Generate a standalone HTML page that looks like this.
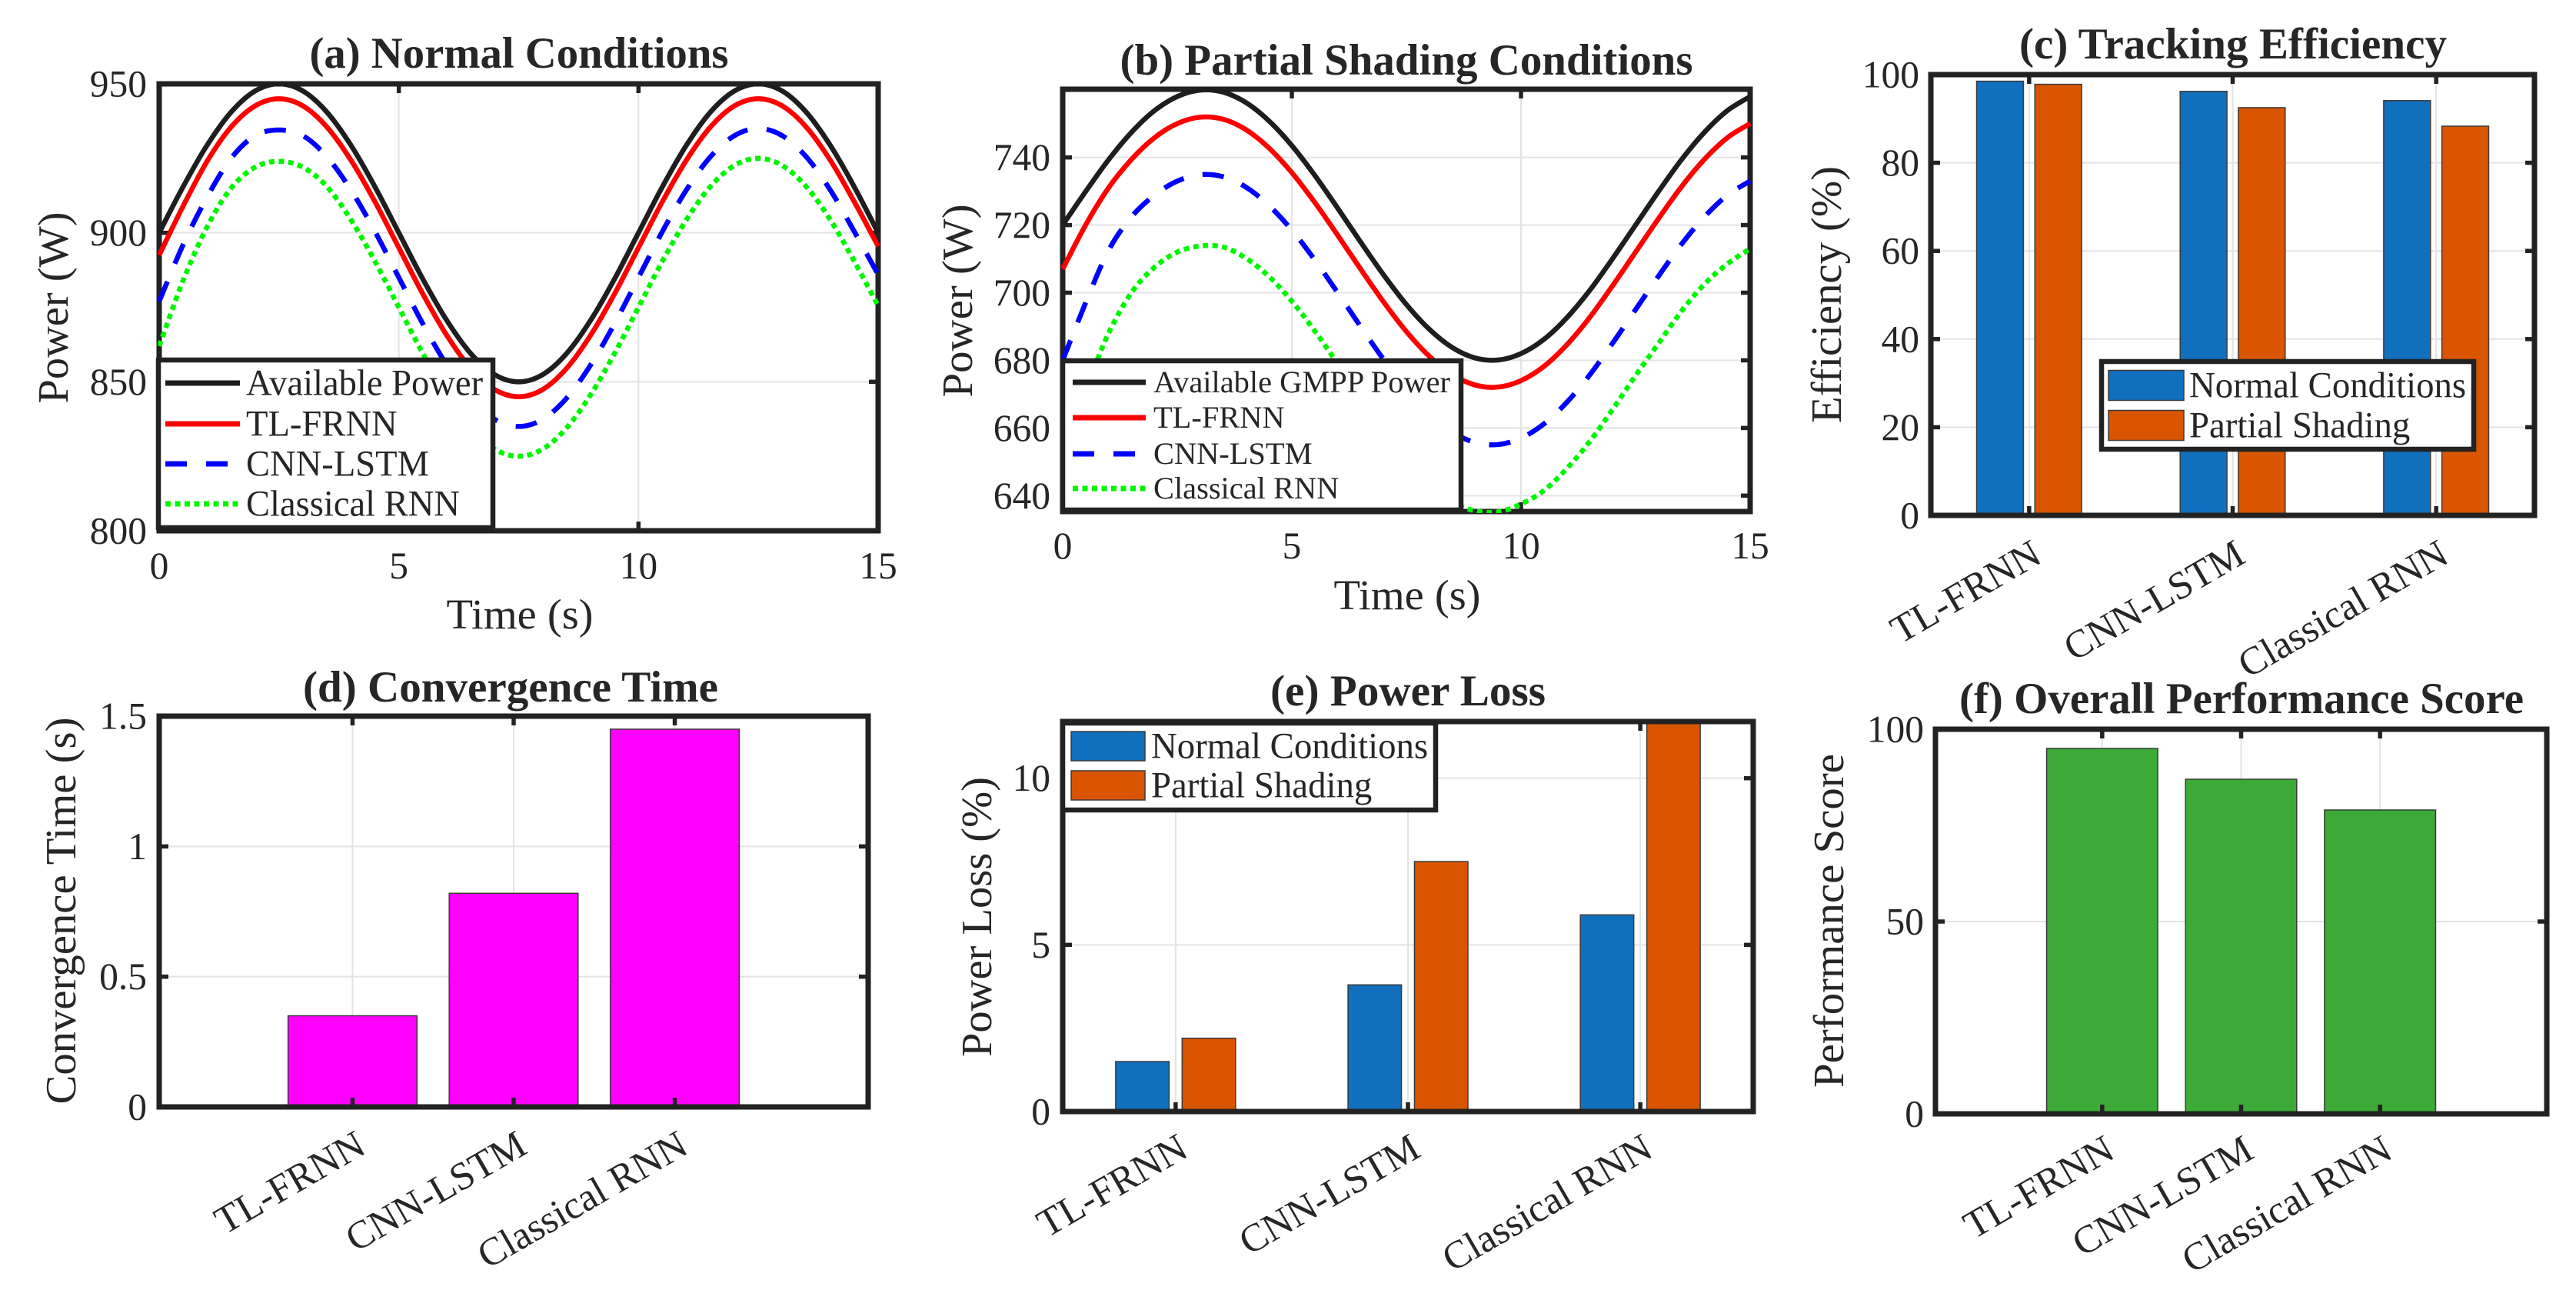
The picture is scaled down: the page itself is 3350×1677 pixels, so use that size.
<!DOCTYPE html>
<html lang="en">
<head>
<meta charset="utf-8">
<title>MPPT performance comparison</title>
<style>
html,body{margin:0;padding:0;background:#fff;}
svg{display:block;}
text{font-family:"Liberation Serif","Times New Roman",serif;fill:#262626;}
</style>
</head>
<body>
<svg id="figure" xmlns="http://www.w3.org/2000/svg" width="3350" height="1677" viewBox="0 0 3350 1677"></svg>
<script>
// ---------- chart data ----------
const timeSeconds = [0,0.5,1,1.5,2,2.5,3,3.5,4,4.5,5,5.5,6,6.5,7,7.5,8,8.5,9,9.5,10,10.5,11,11.5,12,12.5,13,13.5,14,14.5,15];
const normalAvailable = [900,915.5,929.4,940.5,947.6,950,947.6,940.5,929.4,915.5,900,884.5,870.6,859.5,852.4,850,852.4,859.5,870.6,884.5,900,915.5,929.4,940.5,947.6,950,947.6,940.5,929.4,915.5,900];
const normalTlFrnn = [892.5,909,924,935.5,942.6,945,942.6,935.5,924.4,910.5,895,879.5,865.6,854.5,847.4,845,847.4,854.5,865.6,879.5,895,910.5,924.4,935.5,942.6,945,942.6,935.5,924.4,910.5,895.5];
const normalCnnLstm = [877,896,912,925,932.6,934.5,932.6,925.5,914.4,900.5,885,869.5,855.6,844.5,837.4,835,837.4,844.5,855.6,869.5,885,900.5,914.4,925.5,932.6,935,932.6,925.5,914.4,900.5,886];
const normalRnn = [862,884,902,915,922,924,922,915.5,904.4,890.5,875,859.5,845.6,834.5,827.4,825,827.4,834.5,845.6,859.5,875,890.5,904.4,915.5,922.6,925,922.6,915.5,904.4,890.5,875.5];
const shadingAvailable = [720,729.9,739.3,747.4,753.8,758,759.9,759.3,756.2,750.8,743.5,734.7,725,715,705.3,696.5,689.2,683.8,680.7,680.1,682,686.2,692.6,700.7,710.1,720,729.9,739.3,747.4,753.8,758];
const shadingTlFrnn = [707,720,731,739.4,745.8,750,751.9,751.3,748.2,742.8,735.5,726.7,717,707,697.3,688.5,681.2,675.8,672.7,672.1,674,678.2,684.6,692.7,702.1,712,721.9,731.3,739.4,745.8,750];
const shadingCnnLstm = [680,697,712.5,722.4,728.8,733,734.9,734.3,731.2,725.8,718.5,709.7,700,690,680.3,671.5,664.2,658.8,655.7,655.1,657,661.2,667.6,675.7,685.1,695,704.9,714.3,722.4,728.8,733];
const shadingRnn = [660,672,688,700,707.5,712,713.8,713.5,710.2,704.8,697.5,688.7,679,669,659.3,650.5,643.2,638,635.5,635.2,637.5,641.5,648,656,665.5,675.5,685,694.5,702.5,708.5,713];
const methods = ["TL-FRNN","CNN-LSTM","Classical RNN"];
const efficiencyNormal = [98.5,96.2,94.1];
const efficiencyShading = [97.8,92.5,88.3];
const convergenceTime = [0.35,0.82,1.45];
const lossNormal = [1.5,3.8,5.9];
const lossShading = [2.2,7.5,11.7];
const overallScore = [95,87,79];
const timeTicks = [0,5,10,15];
const normalPowerTicks = [800,850,900,950];
const shadingPowerTicks = [640,660,680,700,720,740];
const efficiencyTicks = [0,20,40,60,80,100];
const convergenceTicks = [0,0.5,1,1.5];
const lossTicks = [0,5,10];
const scoreTicks = [0,50,100];
const lineLegendA = ["Available Power","TL-FRNN","CNN-LSTM","Classical RNN"];
const lineLegendB = ["Available GMPP Power","TL-FRNN","CNN-LSTM","Classical RNN"];
const barLegend = ["Normal Conditions","Partial Shading"];

// ---------- drawing helpers ----------
const NS = "http://www.w3.org/2000/svg";
const root = document.getElementById("figure");
const INK = "#222222";
const BLUE = "#1170BE";
const ORANGE = "#D95500";
const MAGENTA = "#FF00FF";
const GREEN = "#3BAA36";
let clipCounter = 0;

function node(tag, attrs, name, parent) {
  const el = document.createElementNS(NS, tag);
  for (const k in attrs) el.setAttribute(k, attrs[k]);
  
  
  (parent || root).appendChild(el);
  return el;
}
function label(str, x, y, o, name, parent) {
  const a = {x: x, y: y, "font-size": o.size, "text-anchor": o.anchor || "middle"};
  if (o.weight) a["font-weight"] = o.weight;
  if (o.rot) a.transform = "rotate(" + o.rot + " " + x + " " + y + ")";
  if (o.width) { a.textLength = o.width; a.lengthAdjust = "spacingAndGlyphs"; }
  const t = node("text", a, name, parent);
  t.textContent = str;
  if (o.squeeze) {
    t.setAttribute("textLength", (t.getComputedTextLength() * o.squeeze).toFixed(1));
    t.setAttribute("lengthAdjust", "spacingAndGlyphs");
  }
  return t;
}
function scale(d0, d1, p0, p1) { return v => p0 + (v - d0) * (p1 - p0) / (d1 - d0); }
function smoothPath(xs, ys) {
  let d = "M" + xs[0].toFixed(2) + " " + ys[0].toFixed(2);
  for (let i = 0; i < xs.length - 1; i++) {
    const a = Math.max(i - 1, 0), b = Math.min(i + 2, xs.length - 1);
    const c1x = xs[i] + (xs[i + 1] - xs[a]) / 6, c1y = ys[i] + (ys[i + 1] - ys[a]) / 6;
    const c2x = xs[i + 1] - (xs[b] - xs[i]) / 6, c2y = ys[i + 1] - (ys[b] - ys[i]) / 6;
    d += "C" + c1x.toFixed(2) + " " + c1y.toFixed(2) + " " + c2x.toFixed(2) + " " + c2y.toFixed(2) + " " + xs[i + 1].toFixed(2) + " " + ys[i + 1].toFixed(2);
  }
  return d;
}

// Builds one axes. Line panels paint the frame below the curves; bar panels paint it above the bars.
function axes(cfg) {
  const g = node("g", {}, cfg.id + "-panel");
  const f = cfg.frame;
  const sx = scale(cfg.xlim[0], cfg.xlim[1], f.l, f.r);
  const sy = scale(cfg.ylim[0], cfg.ylim[1], f.b, f.t);
  const clipId = "clip" + (++clipCounter);
  const pad = cfg.frameBelow ? 2 : 0;
  const defs = node("defs", {}, cfg.id + "-defs", g);
  const cp = node("clipPath", {id: clipId}, cfg.id + "-clip", defs);
  node("rect", {x: f.l - pad, y: f.t - pad, width: f.r - f.l + 2 * pad, height: f.b - f.t + 2 * pad}, cfg.id + "-clip-rect", cp);
  const gridG = node("g", {stroke: "#E3E3E3", "stroke-width": 2}, cfg.id + "-grid", g);
  cfg.xticks.forEach(v => node("line", {x1: sx(v), x2: sx(v), y1: f.t, y2: f.b}, cfg.id + "-grid-x", gridG));
  cfg.yticks.forEach(v => node("line", {x1: f.l, x2: f.r, y1: sy(v), y2: sy(v)}, cfg.id + "-grid-y", gridG));

  function drawFrame() {
    const tickG = node("g", {stroke: INK, "stroke-width": 5.5}, cfg.id + "-ticks", g);
    cfg.xticks.forEach(v => {
      node("line", {x1: sx(v), x2: sx(v), y1: f.b, y2: f.b - 12}, cfg.id + "-x-tick", tickG);
      node("line", {x1: sx(v), x2: sx(v), y1: f.t, y2: f.t + 12}, cfg.id + "-x-tick-top", tickG);
    });
    cfg.yticks.forEach(v => {
      node("line", {x1: f.l, x2: f.l + 12, y1: sy(v), y2: sy(v)}, cfg.id + "-y-tick", tickG);
      node("line", {x1: f.r, x2: f.r - 12, y1: sy(v), y2: sy(v)}, cfg.id + "-y-tick-right", tickG);
    });
    node("rect", {x: f.l, y: f.t, width: f.r - f.l, height: f.b - f.t, fill: "none", stroke: INK, "stroke-width": 7}, cfg.id + "-frame", g);
  }
  if (cfg.frameBelow) drawFrame();
  const plot = node("g", {"clip-path": "url(#" + clipId + ")"}, cfg.id + "-plot-area", g);

  function finish() {
    if (!cfg.frameBelow) drawFrame();
    cfg.yticks.forEach(v => label(String(v), cfg.yLabelRight, sy(v) + 16.5, {size: 49.5, anchor: "end"}, cfg.id + "-y-tick-label", g));
    if (cfg.categories) {
      cfg.categories.forEach((c, i) => {
        const x = sx(cfg.xticks[i]) + cfg.catDx, y = f.b + cfg.catDy;
        label(c, x, y, {size: 51, anchor: "end", rot: -30}, cfg.id + "-x-tick-label", g);
      });
    } else {
      cfg.xticks.forEach(v => label(String(v), sx(v), cfg.xLabelBase, {size: 49.5}, cfg.id + "-x-tick-label", g));
    }
    label(cfg.title, cfg.titleX, cfg.titleY, {size: 57, weight: "bold", width: cfg.titleW}, cfg.id + "-title", g);
    label(cfg.ylabel, cfg.ylabelX, cfg.ylabelY, {size: 56.5, rot: -90, width: cfg.ylabelW}, cfg.id + "-y-axis-title", g);
    if (cfg.xlabel) label(cfg.xlabel, cfg.xlabelX, cfg.xlabelY, {size: 55, width: cfg.xlabelW}, cfg.id + "-x-axis-title", g);
  }
  return {g: g, plot: plot, sx: sx, sy: sy, f: f, finish: finish};
}

function drawLine(ax, xs, ys, color, dash, name) {
  const a = {d: smoothPath(xs.map(ax.sx), ys.map(ax.sy)), fill: "none", stroke: color, "stroke-width": 6.5, "stroke-linejoin": "round"};
  if (dash) a["stroke-dasharray"] = dash;
  node("path", a, name, ax.plot);
}
function drawBar(ax, xCenter, width, value, color, name) {
  const x0 = ax.sx(xCenter - width / 2), x1 = ax.sx(xCenter + width / 2);
  const y0 = ax.sy(value), y1 = ax.sy(0);
  node("rect", {x: x0, y: y0, width: x1 - x0, height: y1 - y0, fill: color, stroke: "#3a3a3a", "stroke-width": 1.5}, name, ax.plot);
}
function lineLegend(ax, box, entries, colors, dashes, size, squeeze, rows, textX, lineX0, lineX1, name) {
  const g = node("g", {}, name, ax.g);
  node("rect", {x: box.x, y: box.y, width: box.w, height: box.h, fill: "#fff", stroke: INK, "stroke-width": 6.5}, name + "-box", g);
  entries.forEach((t, i) => {
    const a = {x1: lineX0, x2: lineX1, y1: rows[i], y2: rows[i], stroke: colors[i], "stroke-width": 7};
    if (dashes[i]) a["stroke-dasharray"] = dashes[i];
    node("line", a, name + "-line-" + t.toLowerCase().replace(/[^a-z]+/g, "-"), g);
    label(t, textX, rows[i] + size * 0.32, {size: size, anchor: "start", squeeze: squeeze}, name + "-label-" + t.toLowerCase().replace(/[^a-z]+/g, "-"), g);
  });
}
function barLegendBox(ax, box, entries, colors, size, squeeze, patches, textX, patchX, patchW, patchH, name) {
  const g = node("g", {}, name, ax.g);
  node("rect", {x: box.x, y: box.y, width: box.w, height: box.h, fill: "#fff", stroke: INK, "stroke-width": 6.5}, name + "-box", g);
  entries.forEach((t, i) => {
    node("rect", {x: patchX, y: patches[i] - patchH / 2, width: patchW, height: patchH, fill: colors[i], stroke: "#3a3a3a", "stroke-width": 1.5}, name + "-swatch-" + t.toLowerCase().replace(/[^a-z]+/g, "-"), g);
    label(t, textX, patches[i] + size * 0.32, {size: size, anchor: "start", squeeze: squeeze}, name + "-label-" + t.toLowerCase().replace(/[^a-z]+/g, "-"), g);
  });
}

const LINE_COLORS = ["#1E1E1E", "#FF0000", "#0000FF", "#00F500"];
const LINE_DASHES = [null, null, "28 25", "7 5.5"];

// ---------- (a) ----------
const axA = axes({id: "normal-conditions", frameBelow: true, frame: {l: 207, r: 1142, t: 109, b: 690},
  xlim: [0, 15], ylim: [800, 950], xticks: timeTicks, yticks: normalPowerTicks,
  yLabelRight: 191, xLabelBase: 752,
  title: "(a) Normal Conditions", titleX: 675, titleY: 88, titleW: 545,
  ylabel: "Power (W)", ylabelX: 88, ylabelY: 400, ylabelW: 249,
  xlabel: "Time (s)", xlabelX: 676, xlabelY: 817, xlabelW: 191});
drawLine(axA, timeSeconds, normalAvailable, LINE_COLORS[0], LINE_DASHES[0], "available-power-line");
drawLine(axA, timeSeconds, normalTlFrnn, LINE_COLORS[1], LINE_DASHES[1], "tl-frnn-line");
drawLine(axA, timeSeconds, normalCnnLstm, LINE_COLORS[2], LINE_DASHES[2], "cnn-lstm-line");
drawLine(axA, timeSeconds, normalRnn, LINE_COLORS[3], LINE_DASHES[3], "classical-rnn-line");
axA.finish();
lineLegend(axA, {x: 206, y: 468, w: 435, h: 218}, lineLegendA, LINE_COLORS, LINE_DASHES, 48, 0.97, [498, 551, 603, 655], 320, 215, 312, "normal-legend");

// ---------- (b) ----------
const axB = axes({id: "partial-shading", frameBelow: true, frame: {l: 1382, r: 2276, t: 116, b: 665},
  xlim: [0, 15], ylim: [635.3, 760.16], xticks: timeTicks, yticks: shadingPowerTicks,
  yLabelRight: 1366, xLabelBase: 726,
  title: "(b) Partial Shading Conditions", titleX: 1829, titleY: 97, titleW: 745,
  ylabel: "Power (W)", ylabelX: 1264, ylabelY: 391, ylabelW: 251,
  xlabel: "Time (s)", xlabelX: 1830, xlabelY: 792, xlabelW: 191});
drawLine(axB, timeSeconds, shadingAvailable, LINE_COLORS[0], LINE_DASHES[0], "available-gmpp-line");
drawLine(axB, timeSeconds, shadingTlFrnn, LINE_COLORS[1], LINE_DASHES[1], "tl-frnn-line");
drawLine(axB, timeSeconds, shadingCnnLstm, LINE_COLORS[2], LINE_DASHES[2], "cnn-lstm-line");
drawLine(axB, timeSeconds, shadingRnn, LINE_COLORS[3], LINE_DASHES[3], "classical-rnn-line");
axB.finish();
lineLegend(axB, {x: 1382, y: 469, w: 518, h: 194}, lineLegendB, LINE_COLORS, LINE_DASHES, 40, 1.01, [497, 543, 590, 635], 1500, 1395, 1490, "shading-legend");

// ---------- grouped / simple bars ----------
const catPositions = [1, 2, 3];

const axC = axes({id: "tracking-efficiency", frame: {l: 2511, r: 3296, t: 97, b: 670},
  xlim: [0.517, 3.483], ylim: [0, 100], xticks: catPositions, yticks: efficiencyTicks, categories: methods,
  yLabelRight: 2496, catDx: 19, catDy: 60,
  title: "(c) Tracking Efficiency", titleX: 2904, titleY: 76, titleW: 556,
  ylabel: "Efficiency (%)", ylabelX: 2394, ylabelY: 383, ylabelW: 334});
catPositions.forEach((p, i) => {
  drawBar(axC, p - 0.143, 0.23, efficiencyNormal[i], BLUE, "efficiency-normal-bar");
  drawBar(axC, p + 0.143, 0.23, efficiencyShading[i], ORANGE, "efficiency-shading-bar");
});
axC.finish();
barLegendBox(axC, {x: 2733, y: 470, w: 484, h: 114}, barLegend, [BLUE, ORANGE], 48, 0.975, [501, 553], 2847, 2742, 98, 39, "efficiency-legend");

const axD = axes({id: "convergence-time", frame: {l: 207, r: 1129, t: 931, b: 1439},
  xlim: [-0.2, 4.2], ylim: [0, 1.5], xticks: catPositions, yticks: convergenceTicks, categories: methods,
  yLabelRight: 191, catDx: 20, catDy: 59,
  title: "(d) Convergence Time", titleX: 664, titleY: 912, titleW: 540,
  ylabel: "Convergence Time (s)", ylabelX: 98, ylabelY: 1184, ylabelW: 503});
catPositions.forEach((p, i) => drawBar(axD, p, 0.8, convergenceTime[i], MAGENTA, "convergence-bar"));
axD.finish();

const axE = axes({id: "power-loss", frame: {l: 1382, r: 2280, t: 938, b: 1445},
  xlim: [0.514, 3.486], ylim: [0, 11.7], xticks: catPositions, yticks: lossTicks, categories: methods,
  yLabelRight: 1366, catDx: 19, catDy: 57,
  title: "(e) Power Loss", titleX: 1831, titleY: 917, titleW: 358,
  ylabel: "Power Loss (%)", ylabelX: 1289, ylabelY: 1192, ylabelW: 364});
catPositions.forEach((p, i) => {
  drawBar(axE, p - 0.143, 0.23, lossNormal[i], BLUE, "loss-normal-bar");
  drawBar(axE, p + 0.143, 0.23, lossShading[i], ORANGE, "loss-shading-bar");
});
axE.finish();
barLegendBox(axE, {x: 1382, y: 940, w: 485, h: 113}, barLegend, [BLUE, ORANGE], 48, 0.975, [970, 1021], 1497, 1393, 96, 38, "loss-legend");

const axF = axes({id: "overall-score", frame: {l: 2517, r: 3312, t: 948, b: 1448},
  xlim: [-0.2, 4.2], ylim: [0, 100], xticks: catPositions, yticks: scoreTicks, categories: methods,
  yLabelRight: 2502, catDx: 19, catDy: 56,
  title: "(f) Overall Performance Score", titleX: 2915, titleY: 927, titleW: 734,
  ylabel: "Performance Score", ylabelX: 2397, ylabelY: 1197, ylabelW: 434});
catPositions.forEach((p, i) => drawBar(axF, p, 0.8, overallScore[i], GREEN, "score-bar"));
axF.finish();
</script>
</body>
</html>
